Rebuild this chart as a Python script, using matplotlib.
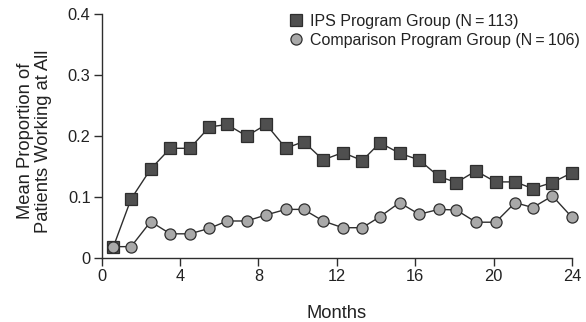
import matplotlib
matplotlib.use("Agg")
import matplotlib.pyplot as plt
from matplotlib.lines import Line2D

plt.rcParams['font.family'] = ['Liberation Sans', 'DejaVu Sans']

# month positions of the plotted points
months = [0.6, 1.5, 2.5, 3.5, 4.5, 5.5, 6.4, 7.4, 8.4, 9.4, 10.3, 11.3,
          12.3, 13.3, 14.2, 15.2, 16.2, 17.2, 18.1, 19.1, 20.1, 21.1, 22.0, 23.0, 24.0]

ips = [0.019, 0.097, 0.146, 0.180, 0.180, 0.215, 0.219, 0.200, 0.219, 0.180, 0.191, 0.161,
       0.173, 0.160, 0.189, 0.172, 0.161, 0.134, 0.124, 0.143, 0.125, 0.125, 0.114, 0.124, 0.140]
comparison = [0.019, 0.019, 0.060, 0.040, 0.040, 0.049, 0.061, 0.061, 0.071, 0.080, 0.080, 0.061,
              0.050, 0.050, 0.068, 0.091, 0.072, 0.080, 0.079, 0.059, 0.059, 0.091, 0.083, 0.102, 0.067]

labels = ['IPS Program Group (N\u2009=\u2009113)', 'Comparison Program Group (N\u2009=\u2009106)']
xticks = [0, 4, 8, 12, 16, 20, 24]
yticks = [0, 0.1, 0.2, 0.3, 0.4]
ytick_labels = ['0', '0.1', '0.2', '0.3', '0.4']

ink = '#2e2e2e'
fig = plt.figure(figsize=(5.86, 3.22), dpi=100)
ax = fig.add_axes([0.1735, 0.198, 0.8026, 0.7587])

ax.plot(months, ips, color=ink, lw=1.0, marker='s', ms=8.8, mfc='#4f4f4f',
        mec=ink, mew=0.9, clip_on=False, zorder=3)
ax.plot(months, comparison, color=ink, lw=1.0, marker='o', ms=8.0, mfc='#a9a9a9',
        mec=ink, mew=0.9, clip_on=False, zorder=3)

ax.set_xlim(0, 24)
ax.set_ylim(0, 0.4)
ax.set_xticks(xticks)
ax.set_yticks(yticks)
ax.set_yticklabels(ytick_labels)

for s in ['top', 'right']:
    ax.spines[s].set_visible(False)
for s in ['left', 'bottom']:
    ax.spines[s].set_color(ink)
    ax.spines[s].set_linewidth(1.0)
ax.tick_params(direction='out', length=6, width=1.0, color=ink,
               labelsize=11.8, labelcolor='#222222', pad=2)

ax.set_xlabel('Months', fontsize=13.2, color='#222222')
ax.xaxis.set_label_coords(0.5, -0.19)
ax.set_ylabel('Mean Proportion of\nPatients Working at All', fontsize=13.2,
              color='#222222', linespacing=1.12)
ax.yaxis.set_label_coords(-0.105, 0.48)

handles = [
    Line2D([], [], ls='none', marker='s', ms=8.8, mfc='#4f4f4f', mec=ink, mew=0.9),
    Line2D([], [], ls='none', marker='o', ms=8.0, mfc='#a9a9a9', mec=ink, mew=0.9),
]
fig.legend(handles, labels, loc='upper left', bbox_to_anchor=(0.4915, 0.958),
           frameon=False, fontsize=11.5, handlelength=1.0, handletextpad=0.4,
           borderpad=0, borderaxespad=0, labelspacing=0.25, labelcolor='#222222')

fig.savefig('out.png', dpi=100)
